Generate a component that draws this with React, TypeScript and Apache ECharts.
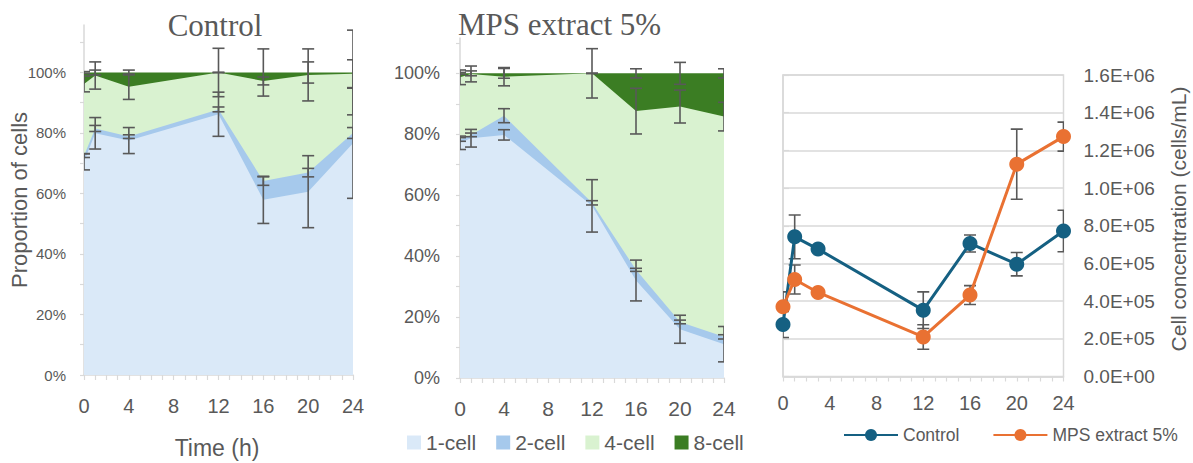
import React, { useEffect, useRef } from "react";
import * as echarts from "echarts";

// Embryo stage proportions (%) at each sampling time
const stageHours = [0, 1, 4, 12, 16, 20, 24];
const stageNames = ["1-cell", "2-cell", "4-cell", "8-cell"];

const controlOneCell = [70.5, 79.9, 77.5, 86.2, 57.9, 60.6, 76.6];
const controlTwoCell = [2.0, 1.6, 1.3, 1.6, 6.2, 6.3, 3.4];
const controlFourCell = [23.7, 17.5, 16.5, 12.2, 33.1, 32.3, 19.6];
const controlEightCell = [3.8, 1.0, 4.7, 0.0, 2.8, 0.8, 0.4];
const controlOneCellErr = [2.7, 5.2, 4.3, 7.3, 7.8, 11.9, 18.2];
const controlTwoCellErr = [0.6, 1.0, 0.6, 0.8, 1.4, 1.4, 1.8];
const controlFourCellErr = [2.6, 4.5, 4.2, 8.0, 1.3, 8.6, 4.6];
const controlEightCellErr = [0.3, 0.8, 0.8, 0.1, 7.8, 3.5, 14.0];

const mpsOneCell = [77.2, 78.7, 79.8, 56.5, 32.0, 16.0, 11.1];
const mpsTwoCell = [1.1, 1.1, 6.3, 1.0, 3.5, 2.4, 2.4];
const mpsFourCell = [20.4, 20.0, 12.8, 42.5, 52.1, 70.7, 72.3];
const mpsEightCell = [1.3, 0.2, 1.1, 0.0, 12.4, 10.9, 14.2];
const mpsOneCellErr = [2.2, 2.9, 1.7, 8.6, 6.7, 4.6, 5.8];
const mpsTwoCellErr = [0.6, 0.6, 2.3, 0.7, 0.5, 0.6, 0.7];
const mpsFourCellErr = [2.4, 2.6, 3.0, 8.1, 7.5, 5.4, 4.7];
const mpsEightCellErr = [0.3, 0.8, 1.6, 0.1, 1.5, 3.6, 1.5];

// Cell concentration (cells/mL)
const concHours = [0, 1, 3, 12, 16, 20, 24];
const controlConc = [276000, 741000, 676000, 352000, 706000, 596000, 772000];
const controlConcErr = [69000, 116000, 15000, 97000, 45000, 62000, 110000];
const mpsConc = [370000, 515000, 446000, 210000, 432000, 1127000, 1273000];
const mpsConcErr = [79000, 77000, 15000, 65000, 50000, 186000, 77000];

const percentLabels = [0, 20, 40, 60, 80, 100];
const percentTicks = [0, 10, 20, 30, 40, 50, 60, 70, 80, 90, 100, 110];

const STAGE_COLORS = ["#DAE9F8", "#A6C9EC", "#D9F2D0", "#3B7D23"];
const BLUE = "#156082";
const ORANGE = "#E97132";
const AXIS_GREY = "#d9d9d9";
const TEXT_GREY = "#595959";
const BAR_GREY = "#595959";
const SANS = '"Liberation Sans", Arial, sans-serif';
const SERIF = '"Liberation Serif", "Times New Roman", serif';

const pairs = (xs: number[], ys: number[]) => xs.map((x, i) => [x, ys[i]]);

function cumulative(layers: number[][]): number[][] {
  const out: number[][] = [];
  let run = layers[0].map(() => 0);
  for (const layer of layers) {
    run = run.map((v, i) => v + layer[i]);
    out.push(run);
  }
  return out;
}

function sci(v: number): string {
  const [m, e] = v.toExponential(1).split("e");
  const n = Number(e);
  return `${m.toUpperCase()}E${n < 0 ? "-" : "+"}${String(Math.abs(n)).padStart(2, "0")}`;
}

function errorBars(id: string, axis: number, xs: number[], ys: number[], errs: number[], z: number) {
  const cap = 6;
  return {
    type: "custom",
    id,
    xAxisIndex: axis,
    yAxisIndex: axis,
    z,
    clip: true,
    silent: true,
    data: xs.map((x, i) => [x, ys[i], errs[i]]),
    encode: { x: 0, y: 1 },
    renderItem: (_params: any, api: any) => {
      const x = api.value(0);
      const y = api.value(1);
      const e = api.value(2);
      const hi = api.coord([x, y + e]);
      const lo = api.coord([x, y - e]);
      const style = { stroke: BAR_GREY, lineWidth: 1.6 };
      return {
        type: "group",
        children: [
          { type: "line", shape: { x1: hi[0], y1: hi[1], x2: lo[0], y2: lo[1] }, style },
          { type: "line", shape: { x1: hi[0] - cap, y1: hi[1], x2: hi[0] + cap, y2: hi[1] }, style },
          { type: "line", shape: { x1: lo[0] - cap, y1: lo[1], x2: lo[0] + cap, y2: lo[1] }, style },
        ],
      };
    },
  };
}

// Stacked stage areas: each layer is filled from 0 up to its cumulative total,
// drawn top layer first so lower layers paint over it.
function stagePanel(axis: number, layers: number[][], errs: number[][]) {
  const cum = cumulative(layers);
  const areas = stageNames
    .map((name, k) => ({
      type: "line",
      name,
      xAxisIndex: axis,
      yAxisIndex: axis,
      data: pairs(stageHours, cum[k]),
      symbol: "none",
      z: 2,
      silent: true,
      emphasis: { disabled: true },
      lineStyle: { width: 0, opacity: 0 },
      itemStyle: { color: STAGE_COLORS[k] },
      areaStyle: { color: STAGE_COLORS[k], opacity: 1 },
    }))
    .reverse();
  const bars = stageNames.map((name, k) => errorBars(`err-${axis}-${name}`, axis, stageHours, cum[k], errs[k], 5));
  return [...areas, ...bars];
}

function hourAxis(grid: number, margin: number, fontSize: number) {
  return {
    gridIndex: grid,
    type: "value",
    min: 0,
    max: 24,
    interval: 1,
    axisLine: { show: true, lineStyle: { color: AXIS_GREY, width: 1.5 } },
    axisTick: { show: true, length: 5, lineStyle: { color: AXIS_GREY, width: 1.2 } },
    axisLabel: {
      color: TEXT_GREY,
      fontSize,
      fontFamily: SANS,
      margin,
      formatter: (v: number) => (v % 4 === 0 ? String(v) : ""),
    },
    splitLine: { show: false },
  };
}

function percentAxis(grid: number, max: number, fontSize: number, margin: number) {
  return {
    gridIndex: grid,
    type: "value",
    min: 0,
    max,
    interval: 10,
    axisLine: { show: true, lineStyle: { color: AXIS_GREY, width: 1.5 } },
    axisTick: { show: true, length: 4, customValues: percentTicks, lineStyle: { color: AXIS_GREY, width: 1.2 } },
    axisLabel: {
      color: TEXT_GREY,
      fontSize,
      fontFamily: SANS,
      margin,
      customValues: percentLabels,
      formatter: (v: number) => (v <= 100 && Math.round(v) % 20 === 0 ? `${Math.round(v)}%` : ""),
    },
    splitLine: { show: false },
  };
}

export default function App() {
  const ref = useRef<HTMLDivElement>(null);

  useEffect(() => {
    document.body.style.margin = "0";
    if (!ref.current) return;
    const chart = echarts.init(ref.current, null, { renderer: "svg" });

    const option = {
      animation: false,
      backgroundColor: "#ffffff",
      grid: [
        { left: 84, top: 25, width: 269, height: 350 },
        { left: 460, top: 38, width: 264, height: 340 },
        {
          left: 783,
          top: 75,
          width: 280.5,
          height: 301.5,
          show: true,
          borderColor: AXIS_GREY,
          borderWidth: 1.5,
          backgroundColor: "transparent",
        },
      ],
      xAxis: [hourAxis(0, 21, 20), hourAxis(1, 20, 21), hourAxis(2, 16, 20)],
      yAxis: [
        percentAxis(0, 115.7, 15, 18),
        percentAxis(1, 111.6, 18, 20),
        {
          gridIndex: 2,
          type: "value",
          position: "right",
          min: 0,
          max: 1600000,
          interval: 200000,
          axisLine: { show: true, lineStyle: { color: AXIS_GREY, width: 1.5 } },
          axisTick: { show: true, length: 6, lineStyle: { color: AXIS_GREY, width: 1.2 } },
          axisLabel: { color: TEXT_GREY, fontSize: 19, fontFamily: SANS, margin: 20, formatter: sci },
          splitLine: { show: true, lineStyle: { color: AXIS_GREY, width: 1.5 } },
        },
      ],
      legend: [
        {
          data: stageNames,
          left: 402,
          top: 427,
          icon: "rect",
          itemWidth: 14,
          itemHeight: 14,
          itemGap: 20,
          selectedMode: false,
          itemStyle: { borderWidth: 0 },
          textStyle: { color: TEXT_GREY, fontSize: 21, fontFamily: SANS },
        },
        {
          data: ["Control", "MPS extract 5%"],
          left: 838,
          top: 421,
          itemWidth: 54,
          itemHeight: 15,
          itemGap: 33,
          selectedMode: false,
          textStyle: { color: TEXT_GREY, fontSize: 17.5, fontFamily: SANS },
        },
      ],
      graphic: [
        {
          type: "text",
          x: 215,
          y: 25,
          style: { text: "Control", fill: TEXT_GREY, font: `31px ${SERIF}`, textAlign: "center", textVerticalAlign: "middle" },
        },
        {
          type: "text",
          x: 559.5,
          y: 24,
          style: { text: "MPS extract 5%", fill: TEXT_GREY, font: `31px ${SERIF}`, textAlign: "center", textVerticalAlign: "middle" },
        },
        {
          type: "text",
          x: 19,
          y: 200,
          rotation: Math.PI / 2,
          style: { text: "Proportion of cells", fill: TEXT_GREY, font: `22px ${SANS}`, textAlign: "center", textVerticalAlign: "middle" },
        },
        {
          type: "text",
          x: 217,
          y: 448,
          style: { text: "Time (h)", fill: TEXT_GREY, font: `23px ${SANS}`, textAlign: "center", textVerticalAlign: "middle" },
        },
        {
          type: "text",
          x: 1178,
          y: 219,
          rotation: Math.PI / 2,
          style: {
            text: "Cell concentration (cells/mL)",
            fill: TEXT_GREY,
            font: `21px ${SANS}`,
            textAlign: "center",
            textVerticalAlign: "middle",
          },
        },
      ],
      series: [
        ...stagePanel(
          0,
          [controlOneCell, controlTwoCell, controlFourCell, controlEightCell],
          [controlOneCellErr, controlTwoCellErr, controlFourCellErr, controlEightCellErr]
        ),
        ...stagePanel(
          1,
          [mpsOneCell, mpsTwoCell, mpsFourCell, mpsEightCell],
          [mpsOneCellErr, mpsTwoCellErr, mpsFourCellErr, mpsEightCellErr]
        ),
        errorBars("err-conc-control", 2, concHours, controlConc, controlConcErr, 2),
        errorBars("err-conc-mps", 2, concHours, mpsConc, mpsConcErr, 2),
        {
          type: "line",
          name: "Control",
          xAxisIndex: 2,
          yAxisIndex: 2,
          data: pairs(concHours, controlConc),
          symbol: "circle",
          symbolSize: 15,
          z: 3,
          emphasis: { disabled: true },
          lineStyle: { color: BLUE, width: 3 },
          itemStyle: { color: BLUE },
        },
        {
          type: "line",
          name: "MPS extract 5%",
          xAxisIndex: 2,
          yAxisIndex: 2,
          data: pairs(concHours, mpsConc),
          symbol: "circle",
          symbolSize: 15,
          z: 3,
          emphasis: { disabled: true },
          lineStyle: { color: ORANGE, width: 3 },
          itemStyle: { color: ORANGE },
        },
      ],
    };

    chart.setOption(option as any);
    return () => chart.dispose();
  }, []);

  return <div ref={ref} style={{ width: 1193, height: 463 }} />;
}
